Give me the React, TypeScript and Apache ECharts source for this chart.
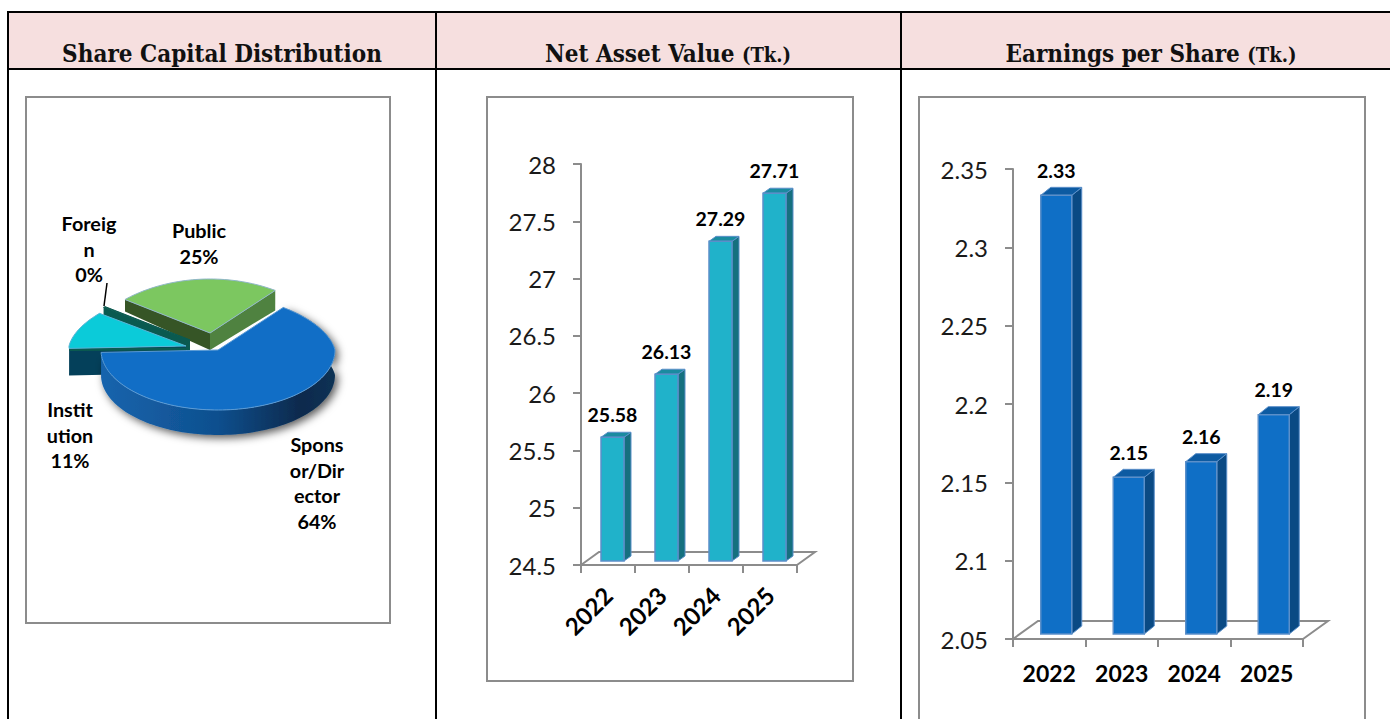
import React, { useEffect, useRef } from "react";
import * as echarts from "echarts";

const headerMain = ["Share Capital Distribution", "Net Asset Value ", "Earnings per Share "];
const headerUnit = ["", "(Tk.)", "(Tk.)"];

const years = ["2022", "2023", "2024", "2025"];
const navValues = [25.58, 26.13, 27.29, 27.71];
const epsValues = [2.33, 2.15, 2.16, 2.19];

const pieNames = ["Sponsor/Director", "Institution", "Foreign", "Public"];
const pieValues = [64, 11, 0.3, 25];
const pieLabelLines = [
  ["Spons", "or/Dir", "ector", "64%"],
  ["Instit", "ution", "11%"],
  ["Foreig", "n", "0%"],
  ["Public", "25%"],
];

const FONT = "Lato, Carlito, sans-serif";
const AXIS = "#8c8c8c";

// pie geometry
const PIE = { cx: 218, cy: 350, rx: 117, ryBack: 54, ryFront: 60, start: 38, squeeze: 0.12 };
const pieStyle = [
  { dx: 0, dy: 0, top: "#116ec6", stroke: "#5b9bd5" },
  { dx: -32, dy: -4, top: "#0bcbd9", stroke: "#5ab4d6" },
  { dx: -28, dy: -10, top: "#0a5a50", stroke: "#0a5a50" },
  { dx: -8, dy: -17, top: "#7cc760", stroke: "#8fb6c8" },
];
const pieLabelPos = [
  { x: 317, y: 444 },
  { x: 70, y: 409 },
  { x: 89, y: 223 },
  { x: 199, y: 230 },
];

const rad = (d: number) => (d * Math.PI) / 180;
const total = pieValues.reduce((a, b) => a + b, 0);
const starts: number[] = [];
pieValues.reduce((acc, v, i) => {
  starts[i] = acc;
  return acc + (v / total) * 360;
}, PIE.start);

function piePoint(a: number, dx: number, dy: number, drop = 0) {
  const c = Math.cos(rad(a));
  const ry = c > 0 ? PIE.ryBack : PIE.ryFront;
  const rx = PIE.rx * (1 - PIE.squeeze * Math.max(c, 0));
  return [PIE.cx + dx + rx * Math.sin(rad(a)), PIE.cy + dy - ry * c + drop];
}

function arcPoints(from: number, to: number, dx: number, dy: number, drop = 0) {
  const pts: number[][] = [];
  const n = Math.max(2, Math.ceil((to - from) / 2));
  for (let i = 0; i <= n; i++) pts.push(piePoint(from + ((to - from) * i) / n, dx, dy, drop));
  return pts;
}

function poly(points: number[][], fill: any, stroke?: string, lineWidth = 1, extra: any = {}) {
  return {
    type: "polygon",
    shape: { points },
    style: { fill, stroke: stroke || "none", lineWidth, ...extra },
  };
}

function renderSlice(_: any, api: any) {
  const idx = api.value(0);
  const value = api.value(1);
  const start = starts[idx];
  const end = start + (value / total) * 360;
  const s = pieStyle[idx];
  const apex = [PIE.cx + s.dx, PIE.cy + s.dy];
  const kids: any[] = [];
  const outer = arcPoints(start, end, s.dx, s.dy);

  if (idx === 0) {
    const grad = new echarts.graphic.LinearGradient(0, 0, 1, 0, [
      { offset: 0, color: "#1664ad" },
      { offset: 0.5, color: "#0f4f8e" },
      { offset: 0.85, color: "#072a4d" },
      { offset: 1, color: "#0a3154" },
    ]);
    const bottom = arcPoints(start, end, s.dx, s.dy, 25);
    kids.push(
      poly([...outer, ...bottom.slice().reverse()], grad, "none", 1, {
        shadowColor: "rgba(0,0,0,0.65)",
        shadowBlur: 8,
        shadowOffsetX: 3,
        shadowOffsetY: 3,
      })
    );
  }
  if (idx === 1) {
    const o = piePoint(start, s.dx, s.dy);
    kids.push(
      poly(
        [apex, o, [o[0], o[1] + 27], [apex[0], apex[1] + 27]],
        "#04405a"
      )
    );
    kids.push({
      type: "line",
      shape: { x1: apex[0], y1: apex[1] + 3, x2: o[0], y2: o[1] + 1 },
      style: { stroke: "#0a5a50", lineWidth: 3 },
    });
  }
  if (idx === 2) {
    const o = piePoint(start, s.dx, s.dy);
    kids.push(poly([apex, o, [o[0], o[1] + 12], [apex[0], apex[1] + 12]], "#0a5a50"));
  }
  if (idx === 3) {
    const l = piePoint(start, s.dx, s.dy);
    const r = piePoint(end, s.dx, s.dy);
    const below = [apex[0], apex[1] + 17];
    kids.push(poly([apex, l, [l[0], l[1] + 12], below], "#365526"));
    kids.push(poly([apex, r, [r[0], r[1] + 20], below], "#4f8240"));
  }
  kids.push(poly([apex, ...outer], s.top, s.stroke, 1));
  return { type: "group", children: kids };
}

interface BarLook {
  front: string;
  side: string;
  top: string;
  stroke: string;
  barW: number;
  depthX: number;
  depthY: number;
  floorX: number;
  floorY: number;
  shiftX: number;
  shiftY: number;
  labelGap: number;
}

const navLook: BarLook = {
  front: "#20b2ca",
  side: "#15707f",
  top: "#1a8ba0",
  stroke: "#5b8fc9",
  barW: 23,
  depthX: 7,
  depthY: 5,
  floorX: 18,
  floorY: 13,
  shiftX: 4.5,
  shiftY: -4,
  labelGap: 18,
};
const epsLook: BarLook = {
  front: "#0f6fc6",
  side: "#0a4a84",
  top: "#0d5ba2",
  stroke: "#5b8fc9",
  barW: 31,
  depthX: 10,
  depthY: 8,
  floorX: 25,
  floorY: 18,
  shiftX: 7,
  shiftY: -5,
  labelGap: 17,
};

function barRenderer(look: BarLook, minVal: number) {
  return (_: any, api: any) => {
    const i = api.value(0);
    const v = api.value(1);
    const topC = api.coord([i, v]);
    const baseC = api.coord([i, minVal]);
    const x0 = topC[0] + look.shiftX - look.barW / 2;
    const x1 = x0 + look.barW;
    const yT = topC[1] + look.shiftY;
    const yB = baseC[1] + look.shiftY;
    const dx = look.depthX;
    const dy = look.depthY;
    return {
      type: "group",
      children: [
        poly([[x1, yT], [x1 + dx, yT - dy], [x1 + dx, yB - dy], [x1, yB]], look.side, look.stroke, 1),
        poly([[x0, yT], [x0 + dx, yT - dy], [x1 + dx, yT - dy], [x1, yT]], look.top, look.stroke, 1),
        poly([[x0, yT], [x1, yT], [x1, yB], [x0, yB]], look.front, look.stroke, 1.5),
        {
          type: "text",
          style: {
            text: String(api.value(2)),
            x: (x0 + x1) / 2,
            y: yT - dy - look.labelGap,
            align: "center",
            verticalAlign: "middle",
            fill: "#000",
            font: `bold 19.5px ${FONT}`,
          },
        },
      ],
    };
  };
}

function floorRenderer(look: BarLook, minVal: number, count: number) {
  return (_: any, api: any) => {
    const c0 = api.coord([0, minVal]);
    const step = api.size([1, 0])[0];
    const ax = c0[0] - step / 2;
    const bx = ax + step * count;
    const y = c0[1];
    return {
      type: "polyline",
      shape: {
        points: [
          [ax, y],
          [ax + look.floorX, y - look.floorY],
          [bx + look.floorX, y - look.floorY],
          [bx, y],
        ],
      },
      style: { stroke: AXIS, lineWidth: 2, fill: "none" },
    };
  };
}

function buildOption() {
  const graphic: any[] = [];
  // table
  graphic.push({ type: "rect", shape: { x: 8, y: 11, width: 1382, height: 58 }, style: { fill: "#f6dfdf" }, z: 0 });
  const black = { stroke: "#000", lineWidth: 2 };
  [
    [8, 12, 1390, 12],
    [8, 69, 1390, 69],
    [8, 11, 8, 719],
    [436, 11, 436, 719],
    [901, 11, 901, 719],
  ].forEach(([x1, y1, x2, y2]) =>
    graphic.push({ type: "line", shape: { x1, y1, x2, y2 }, style: black, z: 1 })
  );
  // inner frames
  [
    [26, 97, 364, 526],
    [487, 97, 366, 584],
    [919, 97, 446, 640],
  ].forEach(([x, y, width, height]) =>
    graphic.push({
      type: "rect",
      shape: { x, y, width, height },
      style: { fill: "none", stroke: AXIS, lineWidth: 2 },
      z: 1,
    })
  );
  // headers
  [222, 668, 1151].forEach((x, i) =>
    graphic.push({
      type: "text",
      x,
      y: 53,
      z: 2,
      style: {
        text: `{a|${headerMain[i]}}` + (headerUnit[i] ? `{b|${headerUnit[i]}}` : ""),
        align: "center",
        verticalAlign: "middle",
        rich: {
          a: { font: 'bold 24px "DejaVu Serif Condensed", "DejaVu Serif", serif', fill: "#111" },
          b: {
            font: 'bold 20px "DejaVu Serif Condensed", "DejaVu Serif", serif',
            fill: "#111",
            verticalAlign: "bottom",
          },
        },
      },
    })
  );
  // pie labels
  pieLabelLines.forEach((lines, i) => {
    lines.forEach((t, k) =>
      graphic.push({
        type: "text",
        x: pieLabelPos[i].x,
        y: pieLabelPos[i].y + k * 25.7,
        z: 5,
        style: {
          text: t,
          align: "center",
          verticalAlign: "middle",
          fill: "#000",
          font: `bold 19.8px ${FONT}`,
        },
      })
    );
  });
  // leader line for the Foreign slice
  graphic.push({
    type: "line",
    shape: { x1: 107, y1: 283, x2: 104, y2: 306 },
    style: { stroke: "#000", lineWidth: 1.5 },
    z: 5,
  });

  const yLabel = {
    fontFamily: FONT,
    fontSize: 24,
    color: "#1a1a1a",
    margin: 25,
    showMinLabel: true,
    showMaxLabel: true,
    padding: [0, 0, 3, 0],
  };
  const axisLine = { show: true, lineStyle: { color: AXIS, width: 2 } };
  const axisTick = { show: true, length: 8, lineStyle: { color: AXIS, width: 2 } };

  return {
    animation: false,
    backgroundColor: "#fff",
    graphic,
    grid: [
      { left: 581, top: 164, width: 216, height: 401 },
      { left: 1013, top: 169, width: 290, height: 470 },
    ],
    xAxis: [
      {
        type: "category",
        gridIndex: 0,
        data: years,
        boundaryGap: true,
        axisLine,
        axisTick: { ...axisTick, alignWithLabel: false },
        axisLabel: {
          interval: 0,
          rotate: 45,
          fontFamily: FONT,
          fontWeight: "bold",
          fontSize: 24,
          color: "#000",
          margin: 26,
        },
      },
      {
        type: "category",
        gridIndex: 1,
        data: years,
        boundaryGap: true,
        axisLine,
        axisTick: { ...axisTick, alignWithLabel: false },
        axisLabel: {
          interval: 0,
          fontFamily: FONT,
          fontWeight: "bold",
          fontSize: 23,
          color: "#000",
          margin: 22,
        },
      },
    ],
    yAxis: [
      {
        type: "value",
        gridIndex: 0,
        min: 24.5,
        max: 28,
        interval: 0.5,
        axisLine,
        axisTick,
        splitLine: { show: false },
        axisLabel: yLabel,
      },
      {
        type: "value",
        gridIndex: 1,
        min: 2.05,
        max: 2.35,
        interval: 0.05,
        axisLine,
        axisTick,
        splitLine: { show: false },
        axisLabel: yLabel,
      },
    ],
    series: [
      {
        type: "custom",
        coordinateSystem: "none",
        z: 3,
        silent: true,
        renderItem: renderSlice,
        // painted back to front
        data: pieNames
          .map((name, i) => ({ name, value: [i, pieValues[i]] }))
          .reverse(),
      },
      {
        type: "custom",
        xAxisIndex: 0,
        yAxisIndex: 0,
        z: 2,
        silent: true,
        clip: false,
        renderItem: floorRenderer(navLook, 24.5, years.length),
        data: [[0, 24.5]],
      },
      {
        type: "custom",
        xAxisIndex: 0,
        yAxisIndex: 0,
        z: 3,
        silent: true,
        clip: false,
        renderItem: barRenderer(navLook, 24.5),
        data: navValues.map((v, i) => [i, v, v.toFixed(2)]),
      },
      {
        type: "custom",
        xAxisIndex: 1,
        yAxisIndex: 1,
        z: 2,
        silent: true,
        clip: false,
        renderItem: floorRenderer(epsLook, 2.05, years.length),
        data: [[0, 2.05]],
      },
      {
        type: "custom",
        xAxisIndex: 1,
        yAxisIndex: 1,
        z: 3,
        silent: true,
        clip: false,
        renderItem: barRenderer(epsLook, 2.05),
        data: epsValues.map((v, i) => [i, v, v.toFixed(2)]),
      },
    ],
  };
}

export default function App() {
  const ref = useRef<HTMLDivElement>(null);
  useEffect(() => {
    const chart = echarts.init(ref.current!, undefined, { renderer: "svg" });
    chart.setOption(buildOption() as any);
    return () => chart.dispose();
  }, []);
  return (
    <div
      ref={ref}
      style={{ position: "fixed", left: 0, top: 0, width: 1390, height: 719, background: "#fff" }}
    />
  );
}
